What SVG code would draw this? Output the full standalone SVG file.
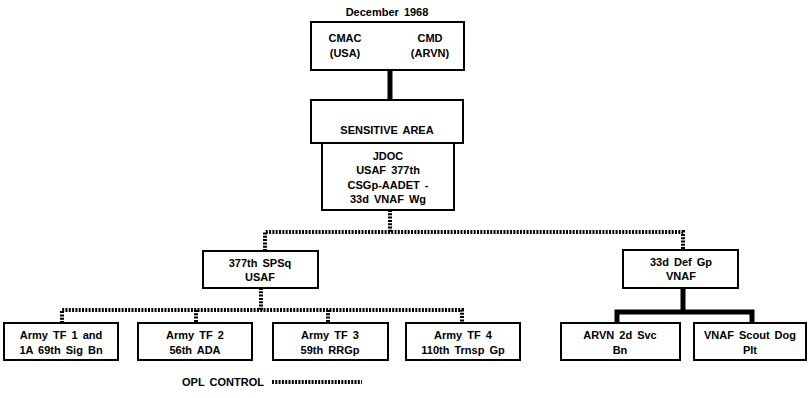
<svg xmlns="http://www.w3.org/2000/svg" width="810" height="398" viewBox="0 0 810 398">
<style>
.box{fill:#fff;stroke:#000;stroke-width:2}
.t{font-family:"Liberation Sans",Arial,sans-serif;font-weight:bold;font-size:11px;text-anchor:middle;fill:#000;word-spacing:2px}
.dot{fill:none;stroke:#000;stroke-width:4;stroke-dasharray:2 1.3}
.solid{fill:none;stroke:#000;stroke-width:5}
</style>
<rect width="810" height="398" fill="#fff"/>
<text class="t" x="387" y="16" font-size="10">December 1968</text>
<g id="connectors">
<line class="solid" x1="390" y1="70" x2="390" y2="101"/>
<line class="dot" x1="390" y1="210" x2="390" y2="232"/>
<polyline class="dot" points="265,251 265,232 683,232 683,251"/>
<line class="dot" x1="261" y1="288" x2="261" y2="310"/>
<polyline class="dot" points="62,323 62,310 462,310 462,323"/>
<line class="dot" x1="196" y1="310" x2="196" y2="323"/>
<line class="dot" x1="328" y1="310" x2="328" y2="323"/>
<line class="solid" x1="683" y1="288" x2="683" y2="312"/>
<polyline class="solid" points="617,324 617,312 752,312 752,324"/>
</g>
<g id="n-cmac">
<rect class="box" x="311" y="22" width="153" height="48"/>
<text class="t" x="345" y="42">CMAC</text>
<text class="t" x="345" y="57">(USA)</text>
<text class="t" x="430" y="42">CMD</text>
<text class="t" x="430" y="57">(ARVN)</text>
</g>
<g id="n-sensitive">
<rect class="box" x="311" y="100" width="152" height="43"/>
<text class="t" x="387" y="134">SENSITIVE AREA</text>
</g>
<g id="n-jdoc">
<rect class="box" x="322" y="143" width="132" height="67"/>
<text class="t" x="388" y="160">JDOC</text>
<text class="t" x="388" y="174">USAF 377th</text>
<text class="t" x="388" y="189">CSGp-AADET -</text>
<text class="t" x="388" y="203">33d VNAF Wg</text>
</g>
<g id="n-377">
<rect class="box" x="203" y="251" width="115" height="37"/>
<text class="t" x="260" y="267">377th SPSq</text>
<text class="t" x="260" y="281">USAF</text>
</g>
<g id="n-33d">
<rect class="box" x="623" y="250" width="115" height="38"/>
<text class="t" x="681" y="266">33d Def Gp</text>
<text class="t" x="681" y="280">VNAF</text>
</g>
<g id="n-tf1">
<rect class="box" x="4" y="323" width="114" height="37"/>
<text class="t" x="61" y="339">Army TF 1 and</text>
<text class="t" x="61" y="354">1A 69th Sig Bn</text>
</g>
<g id="n-tf2">
<rect class="box" x="138" y="323" width="114" height="37"/>
<text class="t" x="195" y="339">Army TF 2</text>
<text class="t" x="195" y="354">56th ADA</text>
</g>
<g id="n-tf3">
<rect class="box" x="273" y="323" width="115" height="37"/>
<text class="t" x="330" y="339">Army TF 3</text>
<text class="t" x="330" y="354">59th RRGp</text>
</g>
<g id="n-tf4">
<rect class="box" x="406" y="323" width="114" height="37"/>
<text class="t" x="463" y="339">Army TF 4</text>
<text class="t" x="463" y="354">110th Trnsp Gp</text>
</g>
<g id="n-arvn">
<rect class="box" x="561" y="323" width="119" height="37"/>
<text class="t" x="620" y="339">ARVN 2d Svc</text>
<text class="t" x="620" y="354">Bn</text>
</g>
<g id="n-vnaf">
<rect class="box" x="694" y="323" width="112" height="37"/>
<text class="t" x="750" y="339">VNAF Scout Dog</text>
<text class="t" x="750" y="354">Plt</text>
</g>
<g id="legend">
<text class="t" x="223" y="386" font-size="10.5">OPL CONTROL</text>
<line class="dot" x1="272" y1="382" x2="362" y2="382" stroke-width="3.5"/>
</g>
</svg>
